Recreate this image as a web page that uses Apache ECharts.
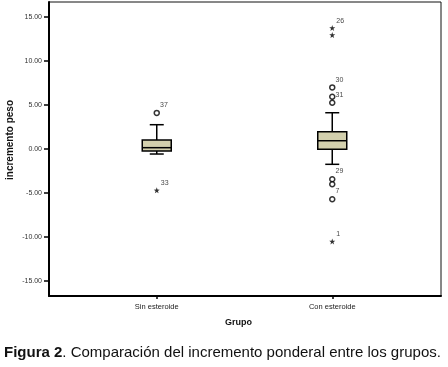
<!DOCTYPE html>
<html>
<head>
<meta charset="utf-8">
<script src="https://cdn.jsdelivr.net/npm/echarts@6/dist/echarts.min.js"></script>
<style>
  html, body { margin: 0; padding: 0; background: #fff; }
  #chart { width: 448px; height: 367px; }
</style>
</head>
<body>
<div id="chart"></div>
<script>
// 数据
var categories = ['Sin esteroide', 'Con esteroide'];
// [min, Q1, mediana, Q3, max]
var boxStats = [
    [-0.57, -0.23, 0.15, 1.02, 2.76],
    [-1.74, -0.03, 0.94, 1.97, 4.12]
];
// valores atípicos (círculos): [grupo, valor, caso]
var outliers = [
    [0, 4.1, '37'],
    [1, 7.0, '30'],
    [1, 5.94, ''],
    [1, 5.26, '31'],
    [1, -3.44, '29'],
    [1, -4.0, ''],
    [1, -5.7, '7']
];
// valores extremos (estrellas)
var extremes = [
    [0, -4.7, '33'],
    [1, 13.75, '26'],
    [1, 12.95, ''],
    [1, -10.5, '1']
];
var tickValues = [-15, -10, -5, 0, 5, 10, 15];
var yMin = -16.7, yMax = 16.7;

var starPath = 'path://M0,-10L2.35,-3.24L9.51,-3.09L3.8,1.24L5.88,8.09L0,4L-5.88,8.09L-3.8,1.24L-9.51,-3.09L-2.35,-3.24Z';

var myChart = echarts.init(document.getElementById('chart'));

function renderBox(params, api) {
    var i = api.value(0);
    var pMin = api.coord([i, api.value(1)]);
    var pQ1 = api.coord([i, api.value(2)]);
    var pMed = api.coord([i, api.value(3)]);
    var pQ3 = api.coord([i, api.value(4)]);
    var pMax = api.coord([i, api.value(5)]);
    var x = pMed[0];
    var hw = 14.5, cw = 7;
    var ls = { stroke: '#000', lineWidth: 1.5 };
    return {
        type: 'group',
        children: [
            { type: 'line', shape: { x1: x, y1: pMax[1], x2: x, y2: pQ3[1] }, style: ls },
            { type: 'line', shape: { x1: x, y1: pQ1[1], x2: x, y2: pMin[1] }, style: ls },
            { type: 'line', shape: { x1: x - cw, y1: pMax[1], x2: x + cw, y2: pMax[1] }, style: ls },
            { type: 'line', shape: { x1: x - cw, y1: pMin[1], x2: x + cw, y2: pMin[1] }, style: ls },
            { type: 'rect', shape: { x: x - hw, y: pQ3[1], width: hw * 2, height: pQ1[1] - pQ3[1] },
              style: { fill: '#d3d0ad', stroke: '#000', lineWidth: 1.5 } },
            { type: 'line', shape: { x1: x - hw, y1: pMed[1], x2: x + hw, y2: pMed[1] }, style: ls }
        ]
    };
}

function pointLabel(pos) {
    return {
        show: true,
        position: pos,
        fontSize: 7,
        fontFamily: 'Liberation Sans',
        color: '#111',
        formatter: function (p) { return p.data[2]; }
    };
}

var option = {
    animation: false,
    backgroundColor: '#fff',
    title: {
        left: 4,
        top: 345,
        padding: 0,
        text: '{b|Figura 2}. Comparación del incremento ponderal entre los grupos.',
        textStyle: {
            fontFamily: 'Liberation Sans',
            fontSize: 15,
            fontWeight: 'normal',
            color: '#111',
            rich: {
                b: { fontFamily: 'Liberation Sans', fontSize: 15, fontWeight: 'bold', color: '#111' }
            }
        }
    },
    grid: [
        { left: 49, top: 2, right: 7, bottom: 71, outerBoundsMode: 'none', show: true, borderColor: '#111', borderWidth: 1 },
        { left: 69, top: 2, width: 351, bottom: 71, outerBoundsMode: 'none' }
    ],
    xAxis: [
        {
            gridIndex: 0, type: 'value', min: 0, max: 1,
            axisLine: { show: true, onZero: false, lineStyle: { color: '#000', width: 2 } },
            axisTick: { show: false }, axisLabel: { show: false }, splitLine: { show: false }
        },
        {
            gridIndex: 1, type: 'category', data: categories,
            name: 'Grupo', nameLocation: 'middle', nameGap: 22, nameMoveOverlap: false,
            nameTextStyle: { fontFamily: 'Liberation Sans', fontSize: 9, fontWeight: 'bold', color: '#111', padding: [0, 12, 0, 0] },
            axisLine: { show: false, onZero: false },
            axisTick: { show: true, alignWithLabel: true, length: 3, lineStyle: { color: '#000', width: 1.5 } },
            axisLabel: { fontFamily: 'Liberation Sans', fontSize: 7.5, color: '#222', margin: 7 }
        }
    ],
    yAxis: [
        {
            gridIndex: 0, type: 'value', min: yMin, max: yMax,
            name: 'incremento peso', nameLocation: 'middle', nameGap: 34, nameMoveOverlap: false,
            nameTextStyle: { fontFamily: 'Liberation Sans', fontSize: 10, fontWeight: 'bold', color: '#111', padding: [0, 0, 0, 18] },
            axisLine: { show: true, lineStyle: { color: '#000', width: 2 } },
            axisTick: { show: true, length: 5, customValues: tickValues, lineStyle: { color: '#000', width: 1.5 } },
            axisLabel: {
                customValues: tickValues, margin: 7,
                fontFamily: 'Liberation Sans', fontSize: 7, color: '#333',
                formatter: function (v) { return v.toFixed(2); }
            },
            splitLine: { show: false }
        },
        {
            gridIndex: 1, type: 'value', min: yMin, max: yMax, show: false
        }
    ],
    series: [
        {
            type: 'custom', xAxisIndex: 1, yAxisIndex: 1,
            renderItem: renderBox,
            encode: { x: 0, y: [1, 2, 3, 4, 5] },
            data: boxStats.map(function (s, i) { return [i].concat(s); })
        },
        {
            type: 'scatter', xAxisIndex: 1, yAxisIndex: 1,
            symbol: 'circle', symbolSize: 5,
            itemStyle: { color: '#fff', borderColor: '#000', borderWidth: 1.5 },
            label: pointLabel([6.5, -8]),
            data: outliers
        },
        {
            type: 'scatter', xAxisIndex: 1, yAxisIndex: 1,
            symbol: starPath, symbolSize: 6,
            itemStyle: { color: '#000' },
            label: pointLabel([7, -7.5]),
            data: extremes
        }
    ]
};

myChart.setOption(option);
</script>
</body>
</html>
